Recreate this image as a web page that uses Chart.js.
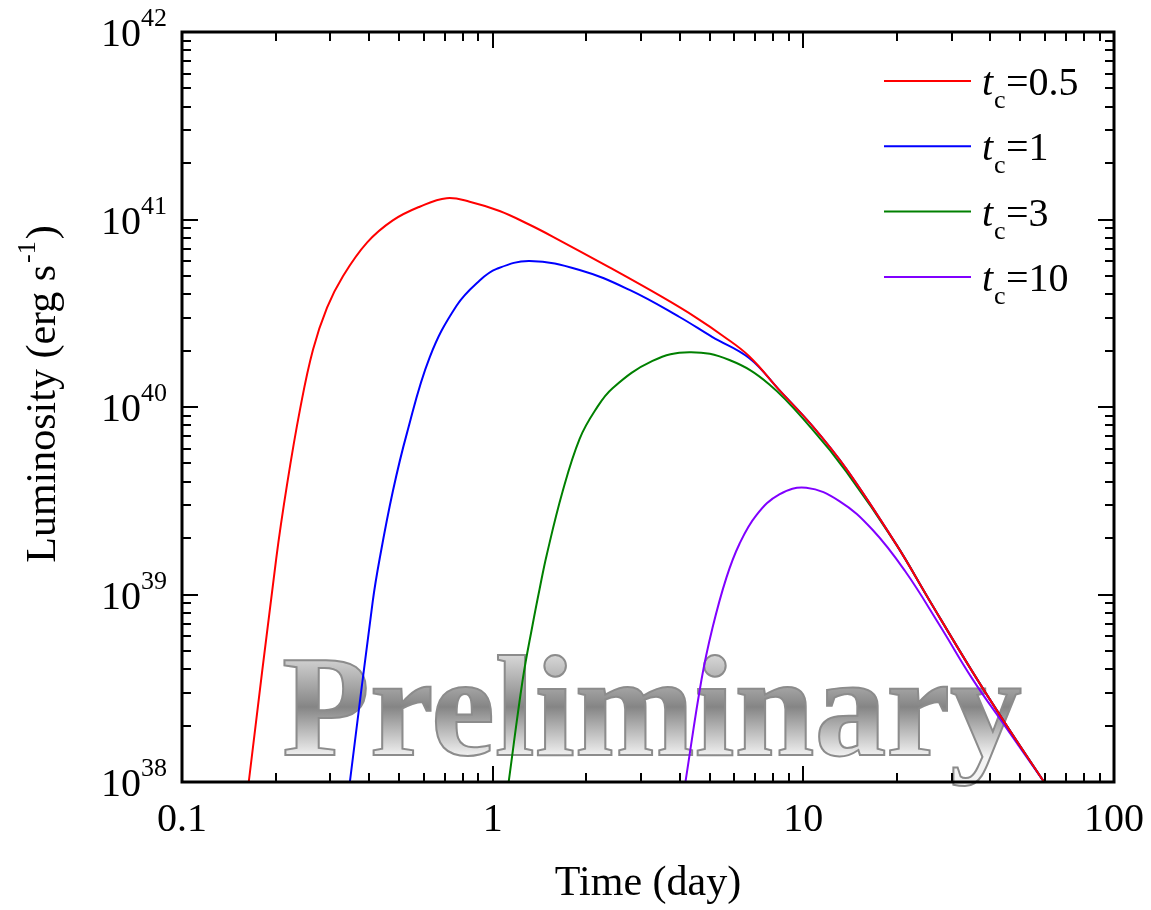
<!DOCTYPE html>
<html>
<head>
<meta charset="utf-8">
<title>Luminosity vs time</title>
<script src="https://cdn.jsdelivr.net/npm/chart.js@4/dist/chart.umd.min.js"></script>
<style>
  body { margin: 0; background: #fff; }
  canvas { display: block; }
</style>
</head>
<body>
<canvas id="grafico" width="1151" height="910"></canvas>
<script>
// tiempo (día) y luminosidad (erg/s) de cada curva
const t_05 = [0.164, 0.201, 0.218, 0.240, 0.264, 0.293, 0.330, 0.394, 0.477, 0.582, 0.711, 0.843, 1.053, 1.30, 1.559, 2.377, 3.521, 4.529, 5.50, 6.705, 8.372, 10.69, 13.75, 19.91, 25.42, 34.96, 44.96, 59.55];
const L_05 = [1.0e38, 1.55e39, 3.89e39, 9.77e39, 2.02e40, 3.39e40, 5.0e40, 7.53e40, 9.89e40, 1.17e41, 1.30e41, 1.245e41, 1.11e41, 9.46e40, 8.11e40, 5.55e40, 3.85e40, 2.99e40, 2.40e40, 1.86e40, 1.23e40, 7.93e39, 4.68e39, 1.85e39, 9.35e38, 3.89e38, 2.02e38, 1.0e38];

const t_1 = [0.347, 0.411, 0.433, 0.477, 0.529, 0.627, 0.766, 0.908, 1.030, 1.315, 1.905, 2.758, 3.994, 5.099, 6.705, 8.372, 10.69, 13.75, 19.91, 25.42, 34.96, 44.96, 59.55];
const L_1 = [1.0e38, 9.16e38, 1.56e39, 3.54e39, 7.19e39, 1.84e40, 3.48e40, 4.73e40, 5.45e40, 6.0e40, 5.38e40, 4.21e40, 3.02e40, 2.36e40, 1.82e40, 1.23e40, 7.93e39, 4.68e39, 1.85e39, 9.35e38, 3.89e38, 2.02e38, 1.0e38];

const t_3 = [1.126, 1.249, 1.345, 1.416, 1.492, 1.680, 1.905, 2.138, 2.432, 3.270, 4.299, 5.781, 7.775, 10.69, 13.75, 19.91, 25.42, 34.96, 44.96, 59.55];
const L_3 = [1.0e38, 3.50e38, 6.92e38, 1.07e39, 1.62e39, 3.55e39, 6.76e39, 9.6e39, 1.26e40, 1.76e40, 1.96e40, 1.78e40, 1.32e40, 7.59e39, 4.52e39, 1.85e39, 9.35e38, 3.89e38, 2.02e38, 1.0e38];

const t_10 = [4.174, 4.699, 5.099, 5.655, 6.227, 7.063, 8.372, 10.22, 13.06, 16.67, 21.28, 27.37, 34.96, 44.96, 59.55];
const L_10 = [1.0e38, 3.50e38, 6.62e38, 1.23e39, 1.86e39, 2.65e39, 3.42e39, 3.71e39, 3.15e39, 2.22e39, 1.33e39, 6.92e38, 3.56e38, 1.95e38, 1.0e38];

const valores_tc = ['0.5', '1', '3', '10'];
const colores = ['#ff0000', '#0000ff', '#008000', '#8000ff'];

const xTicks = [0.1, 1, 10, 100];
const xTickLabels = ['0.1', '1', '10', '100'];
const yTicks = [1e38, 1e39, 1e40, 1e41, 1e42];
const yTickExp = ['38', '39', '40', '41', '42'];

const SERIF = '"Liberation Serif", "Times New Roman", serif';

function puntos(ts, ls) {
    return ts.map((t, i) => ({ x: t, y: ls[i] }));
}

const series = [
    puntos(t_05, L_05),
    puntos(t_1, L_1),
    puntos(t_3, L_3),
    puntos(t_10, L_10)
];

// marcas de escala log: mayores en cada década, menores en 2..9
function marcasLog(min, max) {
    const out = [];
    for (let d = min; d < max * 0.999; d *= 10) {
        for (let k = 1; k <= 9; k++) out.push({ v: d * k, mayor: k === 1 });
    }
    out.push({ v: max, mayor: true });
    return out;
}

// texto "Preliminary" con degradado gris
function marcaAgua(chart) {
    const ctx = chart.ctx;
    ctx.save();
    ctx.font = 'bold 143px ' + SERIF;
    const ancho = ctx.measureText('Preliminary').width;
    const escala = 740 / ancho;
    ctx.translate(282, 755);
    ctx.scale(escala, 1);
    const grad = ctx.createLinearGradient(0, -98, 0, 2);
    grad.addColorStop(0, '#d4d4d4');
    grad.addColorStop(0.5, '#858585');
    grad.addColorStop(1, '#f4f4f4');
    ctx.fillStyle = grad;
    ctx.textBaseline = 'alphabetic';
    ctx.fillText('Preliminary', 0, 0);
    ctx.lineWidth = 2;
    ctx.strokeStyle = '#8c8c8c';
    ctx.strokeText('Preliminary', 0, 0);
    ctx.restore();
}

const marco = {
    id: 'marco',
    beforeDatasetsDraw(chart) {
        marcaAgua(chart);
    },
    afterDatasetsDraw(chart) {
        const ctx = chart.ctx;
        const a = chart.chartArea;
        const sx = chart.scales.x;
        const sy = chart.scales.y;
        ctx.save();
        ctx.strokeStyle = '#000';
        ctx.fillStyle = '#000';

        // marcas hacia adentro en los cuatro lados
        ctx.lineWidth = 2;
        ctx.beginPath();
        marcasLog(0.1, 100).forEach(m => {
            const px = Math.round(sx.getPixelForValue(m.v));
            const len = m.mayor ? 16 : 9;
            ctx.moveTo(px, a.bottom); ctx.lineTo(px, a.bottom - len);
            ctx.moveTo(px, a.top); ctx.lineTo(px, a.top + len);
        });
        marcasLog(1e38, 1e42).forEach(m => {
            const py = Math.round(sy.getPixelForValue(m.v));
            const len = m.mayor ? 16 : 9;
            ctx.moveTo(a.left, py); ctx.lineTo(a.left + len, py);
            ctx.moveTo(a.right, py); ctx.lineTo(a.right - len, py);
        });
        ctx.stroke();

        ctx.lineWidth = 3;
        ctx.strokeRect(a.left, a.top, a.right - a.left, a.bottom - a.top);

        // etiquetas eje x
        ctx.font = '40px ' + SERIF;
        ctx.textAlign = 'center';
        ctx.textBaseline = 'alphabetic';
        xTicks.forEach((v, i) => {
            ctx.fillText(xTickLabels[i], sx.getPixelForValue(v), a.bottom + 49);
        });

        // etiquetas eje y: 10 con exponente
        yTicks.forEach((v, i) => {
            const py = sy.getPixelForValue(v);
            ctx.font = '26px ' + SERIF;
            const wSup = ctx.measureText(yTickExp[i]).width;
            const xSup = a.left - 15 - wSup;
            ctx.textAlign = 'left';
            ctx.fillText(yTickExp[i], xSup, py - 6);
            ctx.font = '40px ' + SERIF;
            ctx.textAlign = 'right';
            ctx.fillText('10', xSup, py + 14);
        });

        // títulos de ejes
        ctx.font = '42px ' + SERIF;
        ctx.textAlign = 'center';
        ctx.fillText('Time (day)', (a.left + a.right) / 2, 895);

        ctx.save();
        ctx.translate(55, 394);
        ctx.rotate(-Math.PI / 2);
        ctx.textAlign = 'left';
        ctx.font = '42px ' + SERIF;
        const p1 = 'Luminosity (erg s';
        const w1 = ctx.measureText(p1).width;
        const w3 = ctx.measureText(')').width;
        ctx.font = '26px ' + SERIF;
        const w2 = ctx.measureText('-1').width;
        let x0 = -(w1 + w2 + w3 + 4) / 2;
        ctx.font = '42px ' + SERIF;
        ctx.fillText(p1, x0, 0);
        ctx.font = '26px ' + SERIF;
        ctx.fillText('-1', x0 + w1 + 2, -20);
        ctx.font = '42px ' + SERIF;
        ctx.fillText(')', x0 + w1 + w2 + 4, 0);
        ctx.restore();

        // leyenda
        valores_tc.forEach((val, i) => {
            const ly = 81 + i * 65.3;
            ctx.strokeStyle = colores[i];
            ctx.lineWidth = 2;
            ctx.beginPath();
            ctx.moveTo(884, ly);
            ctx.lineTo(971, ly);
            ctx.stroke();
            ctx.textAlign = 'left';
            ctx.font = 'italic 40px ' + SERIF;
            ctx.fillText('t', 982, ly + 14);
            ctx.font = '26px ' + SERIF;
            ctx.fillText('c', 994, ly + 27);
            ctx.font = '40px ' + SERIF;
            ctx.fillText('=' + val, 1006, ly + 14);
        });
        ctx.restore();
    }
};

const ctx = document.getElementById('grafico').getContext('2d');

const graficoLum = new Chart(ctx, {
    type: 'line',
    data: {
        datasets: series.map((d, i) => ({
            label: 'tc=' + valores_tc[i],
            data: d,
            borderColor: colores[i],
            borderWidth: 2,
            pointRadius: 0,
            fill: false,
            tension: 0.4
        }))
    },
    options: {
        responsive: false,
        animation: false,
        layout: { padding: { left: 182, top: 32, right: 37, bottom: 128 } },
        scales: {
            x: { type: 'logarithmic', min: 0.1, max: 100, display: false },
            y: { type: 'logarithmic', min: 1e38, max: 1e42, display: false }
        },
        plugins: {
            legend: { display: false },
            tooltip: { enabled: false }
        }
    },
    plugins: [marco]
});
</script>
</body>
</html>
